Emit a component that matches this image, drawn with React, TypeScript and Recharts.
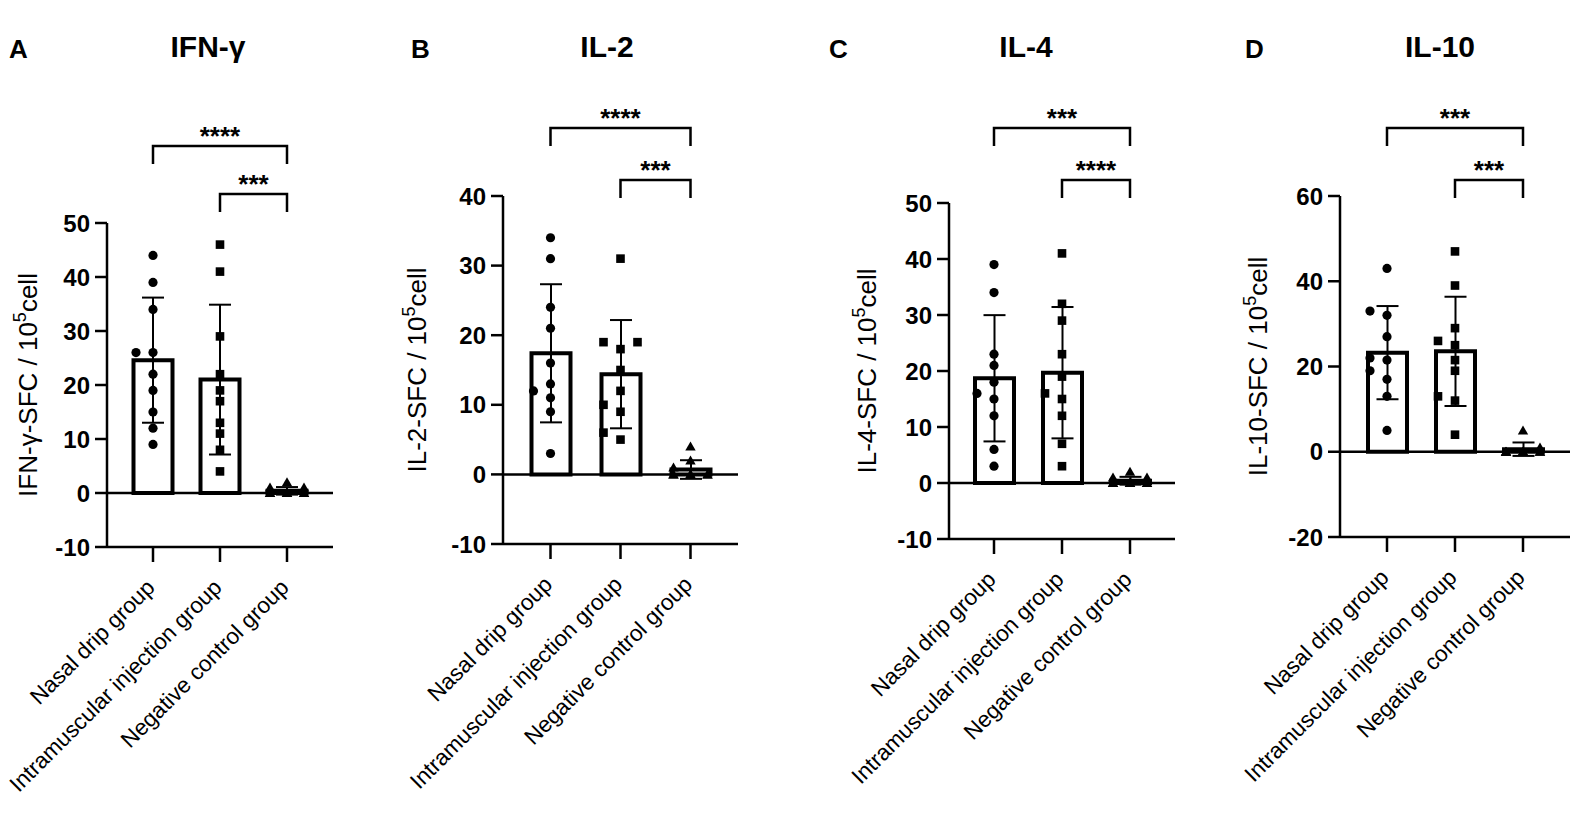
import React from "react";
import { ComposedChart, Bar, ErrorBar, Scatter, XAxis, YAxis, ReferenceLine } from "recharts";

const FONT = "'Liberation Sans', Arial, sans-serif";

const groups = ["Nasal drip group", "Intramuscular injection group", "Negative control group"];

// IFN-γ spots per 10^5 cells
const ifnNasal = [44, 39, 34, 26, 26, 22, 19, 15, 12, 9];
const ifnIntramuscular = [46, 41, 29, 22, 19, 17, 13, 11, 8, 4];
const ifnNegative = [2, 1, 1, 0, 0, 0, 0, 0, 0, 0];

// IL-2
const il2Nasal = [34, 31, 24, 21, 16, 13, 12, 11, 9, 3];
const il2Intramuscular = [31, 19, 19, 18, 15, 12, 10, 9, 6, 5];
const il2Negative = [4, 2, 1, 0, 0, 0, 0, 0, 0, 0];

// IL-4
const il4Nasal = [39, 34, 23, 21, 18, 16, 15, 12, 6, 3];
const il4Intramuscular = [41, 32, 29, 23, 19, 16, 15, 12, 7, 3];
const il4Negative = [2, 1, 1, 0, 0, 0, 0, 0, 0, 0];

// IL-10
const il10Nasal = [43, 33, 32, 27, 22, 21.5, 19, 17, 13, 5];
const il10Intramuscular = [47, 39, 29, 26, 25, 21.5, 19, 13, 12, 4];
const il10Negative = [5, 1, 0, 0, 0, 0, 0, 0, 0, 0];

const ticks50 = [-10, 0, 10, 20, 30, 40, 50];
const ticks40 = [-10, 0, 10, 20, 30, 40];
const ticks60 = [-20, 0, 20, 40, 60];

const sigA = ["****", "***"];
const sigB = ["****", "***"];
const sigC = ["***", "****"];
const sigD = ["***", "***"];

const panels = [
  { letter: "A", title: "IFN-γ", name: "IFN-γ", series: [ifnNasal, ifnIntramuscular, ifnNegative], ticks: ticks50, sig: sigA,
    left: 0, width: 390, axisX: 107, plotRight: 333, top: 223, bottom: 547, pad: 12.5, labelGap: 70, titleX: 208, letterX: 9, brY: [146, 194] },
  { letter: "B", title: "IL-2", name: "IL-2", series: [il2Nasal, il2Intramuscular, il2Negative], ticks: ticks40, sig: sigB,
    left: 390, width: 395, axisX: 503, plotRight: 738, top: 196, bottom: 544, pad: 12.5, labelGap: 77, titleX: 607, letterX: 411, brY: [128, 180] },
  { letter: "C", title: "IL-4", name: "IL-4", series: [il4Nasal, il4Intramuscular, il4Negative], ticks: ticks50, sig: sigC,
    left: 785, width: 400, axisX: 949, plotRight: 1175, top: 203, bottom: 539, pad: 11, labelGap: 73, titleX: 1026, letterX: 829, brY: [128, 180] },
  { letter: "D", title: "IL-10", name: "IL-10", series: [il10Nasal, il10Intramuscular, il10Negative], ticks: ticks60, sig: sigD,
    left: 1185, width: 390, axisX: 1340, plotRight: 1570, top: 196, bottom: 537, pad: 13, labelGap: 73, titleX: 1440, letterX: 1245, brY: [128, 180] },
];

const mean = (a: number[]) => a.reduce((s, v) => s + v, 0) / a.length;
const sd = (a: number[]) => {
  const m = mean(a);
  return Math.sqrt(a.reduce((s, v) => s + (v - m) ** 2, 0) / (a.length - 1));
};

// spread overlapping points sideways, like a GraphPad scatter
function spread(values: number[], pxPerUnit: number) {
  const cands = [0, -17, 17, -8.5, 8.5, -21, 21, -12.5, 12.5, -4, 4];
  const placed: { y: number; dx: number }[] = [];
  const out = new Array(values.length).fill(0);
  const order = values.map((_, i) => i).sort((a, b) => values[a] - values[b]);
  for (const i of order) {
    const y = values[i] * pxPerUnit;
    let best = cands[0];
    let bestHits = Infinity;
    for (const c of cands) {
      const hits = placed.filter((p) => Math.abs(p.y - y) < 9 && Math.abs(p.dx - c) < 9).length;
      if (hits < bestHits) {
        best = c;
        bestHits = hits;
      }
      if (hits === 0) break;
    }
    out[i] = best;
    placed.push({ y, dx: best });
  }
  return out;
}

function Marker(props: any) {
  const { cx, cy, payload } = props;
  if (cx == null || cy == null) return null;
  const x = cx + payload.dx;
  if (payload.kind === 0) return <circle cx={x} cy={cy} r={4.6} fill="#000" />;
  if (payload.kind === 1) return <rect x={x - 4.3} y={cy - 4.3} width={8.6} height={8.6} fill="#000" />;
  return <path d={`M${x},${cy - 5} L${x + 5.2},${cy + 4} L${x - 5.2},${cy + 4} Z`} fill="#000" />;
}

function CategoryTick(props: any) {
  const { x, y, payload } = props;
  const ax = x + 3;
  const ay = y + 25;
  return (
    <text x={ax} y={ay} transform={`rotate(-45 ${ax} ${ay})`} textAnchor="end" fontSize={22.5} fontFamily={FONT} fill="#000">
      {payload.value}
    </text>
  );
}

function axisTitle(name: string, gap: number) {
  return (props: any) => {
    const vb = props.viewBox;
    const x = vb.x + vb.width - gap;
    const y = vb.y + vb.height / 2;
    return (
      <text x={x} y={y} transform={`rotate(-90 ${x} ${y})`} textAnchor="middle" fontSize={26} fontFamily={FONT} fill="#000">
        {name}-SFC / 10<tspan dy={-11} fontSize={18}>5</tspan>
        <tspan dy={11}>cell</tspan>
      </text>
    );
  };
}

function Panel({ p }: { p: (typeof panels)[number] }) {
  const lo = p.ticks[0];
  const hi = p.ticks[p.ticks.length - 1];
  const pxPerUnit = (p.bottom - p.top) / (hi - lo);
  const bars = groups.map((g, i) => ({ group: g, mean: mean(p.series[i]), sd: sd(p.series[i]) }));
  const points = groups.flatMap((g, i) => {
    const dxs = spread(p.series[i], pxPerUnit);
    return p.series[i].map((v, j) => ({ group: g, v, dx: dxs[j], kind: i }));
  });
  const axisStyle = { stroke: "#000", strokeWidth: 2.5 };
  return (
    <div style={{ position: "absolute", left: p.left, top: 0 }}>
      <ComposedChart
        width={p.width}
        height={813}
        data={bars}
        margin={{ top: p.top, bottom: 0, left: 0, right: p.left + p.width - p.plotRight }}
      >
        <XAxis
          dataKey="group"
          type="category"
          allowDuplicatedCategory={false}
          height={813 - p.bottom}
          padding={{ left: p.pad, right: p.pad }}
          axisLine={axisStyle}
          tickLine={axisStyle}
          tickSize={15}
          tick={<CategoryTick />}
          interval={0}
        />
        <YAxis
          type="number"
          domain={[lo, hi]}
          ticks={p.ticks}
          allowDataOverflow
          width={p.axisX - p.left}
          axisLine={axisStyle}
          tickLine={axisStyle}
          tickSize={12}
          tickMargin={5}
          tick={{ fill: "#000", fontSize: 24, fontWeight: 700, fontFamily: FONT }}
          label={{ content: axisTitle(p.name, p.labelGap) }}
        />
        <ReferenceLine y={0} stroke="#000" strokeWidth={2.5} />
        <Bar dataKey="mean" fill="#fff" stroke="#000" strokeWidth={4} barSize={39} isAnimationActive={false}>
          <ErrorBar dataKey="sd" width={11} stroke="#000" strokeWidth={2} direction="y" isAnimationActive={false} />
        </Bar>
        <Scatter data={points} dataKey="v" shape={<Marker />} isAnimationActive={false} />
      </ComposedChart>
    </div>
  );
}

function Annotations() {
  return (
    <svg width={1575} height={813} style={{ position: "absolute", left: 0, top: 0, pointerEvents: "none" }}>
      {panels.map((p) => {
        const band = (p.plotRight - p.axisX - 2 * p.pad) / groups.length;
        const cx = (i: number) => p.axisX + p.pad + band * (i + 0.5);
        const pairs = [
          [0, 2],
          [1, 2],
        ];
        return (
          <g key={p.letter} fontFamily={FONT} fill="#000">
            <text x={p.letterX} y={58} fontSize={26} fontWeight={700}>
              {p.letter}
            </text>
            <text x={p.titleX} y={57} fontSize={30} fontWeight={700} textAnchor="middle">
              {p.title}
            </text>
            {pairs.map(([a, b], k) => {
              const y = p.brY[k];
              const x1 = cx(a);
              const x2 = cx(b);
              return (
                <g key={k}>
                  <path d={`M${x1},${y + 18} V${y} H${x2} V${y + 18}`} fill="none" stroke="#000" strokeWidth={2.5} />
                  <text x={(x1 + x2) / 2} y={y - 1} fontSize={26} fontWeight={700} textAnchor="middle">
                    {p.sig[k]}
                  </text>
                </g>
              );
            })}
          </g>
        );
      })}
    </svg>
  );
}

export default function App() {
  return (
    <div style={{ position: "absolute", left: 0, top: 0, width: 1575, height: 813, background: "#fff" }}>
      {panels.map((p) => (
        <Panel key={p.letter} p={p} />
      ))}
      <Annotations />
    </div>
  );
}
